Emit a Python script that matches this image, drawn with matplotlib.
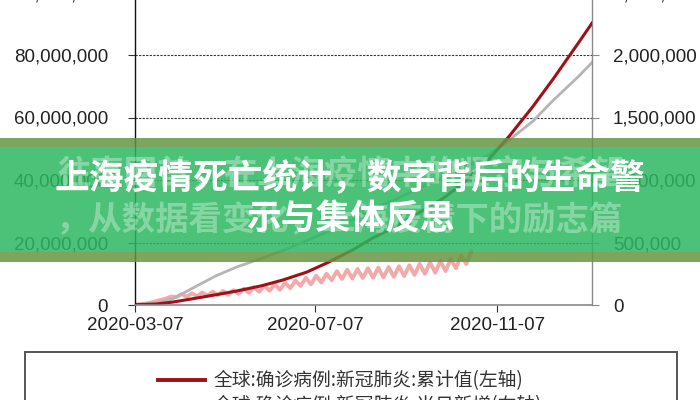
import matplotlib
matplotlib.use("Agg")
import matplotlib.pyplot as plt
import matplotlib.dates as mdates
import matplotlib.ticker as mticker
from matplotlib.patches import Rectangle
import numpy as np
import pandas as pd

# ---------------- data ----------------
cum_dates = ["2020-03-07", "2020-03-21", "2020-04-01", "2020-04-15", "2020-05-01",
             "2020-05-15", "2020-06-01", "2020-06-15", "2020-07-01", "2020-07-15",
             "2020-08-01", "2020-08-15", "2020-09-01", "2020-09-15", "2020-10-01",
             "2020-10-15", "2020-11-01", "2020-11-15", "2020-12-01", "2020-12-15",
             "2021-01-01", "2021-01-10"]
# global confirmed cases, cumulative (millions, left axis)
cases_cum_m = [0.1, 0.3, 0.9, 2.0, 3.3, 4.5, 6.2, 8.0, 10.5, 13.5,
               17.6, 21.5, 25.5, 29.5, 34.0, 39.0, 46.5, 54.0, 63.5, 72.5,
               84.0, 90.2]
# global deaths, cumulative (thousands, right axis)
deaths_cum_k = [3.5, 13, 47, 135, 235, 305, 375, 435, 515, 585,
                680, 770, 855, 935, 1020, 1095, 1200, 1320, 1470, 1640,
                1830, 1940]
# global daily new confirmed cases (thousands, right axis), twice-weekly trough/peak readings
daily_start = "2020-03-07"
daily_step_hours = 84
daily_new_k = [3, 7, 11, 19, 29, 41, 52, 68, 63, 87, 66, 94, 70, 100, 74, 106,
               78, 112, 82, 118, 90, 130, 98, 142, 106, 154, 114, 166, 122, 178,
               135, 195, 153, 217, 166, 234, 180, 250, 199, 271, 208, 282,
               212, 288, 216, 294, 218, 298, 221, 303, 226, 310, 232, 318,
               241, 329, 250, 340, 259, 351, 272, 368, 295, 395, 328, 432]

x_ticks = ["2020-03-07", "2020-07-07", "2020-11-07"]
x_range = ["2020-03-07", "2021-01-10"]
left_ticks = [0, 20e6, 40e6, 60e6, 80e6, 100e6]
right_ticks = [0, 0.5e6, 1.0e6, 1.5e6, 2.0e6, 2.5e6]

legend_labels = ["全球:确诊病例:新冠肺炎:累计值(左轴)",
                 "全球:确诊病例:新冠肺炎:当日新增(右轴)",
                 "全球:死亡病例:新冠肺炎:累计值(右轴)"]
title_lines = ["上海疫情死亡统计，数字背后的生命警", "示与集体反思"]
ghost_lines = ["往事回首，在上海疫情中的坚守与希望", "，从数据看变化，上海疫情下的励志篇"]

# ---------------- figure ----------------
W, H = 700, 400
fig = plt.figure(figsize=(7, 4), dpi=100)

def fx(px):
    return px / W

def fy(py):
    return 1 - py / H

ax_l, ax_r, ax_b = 135, 592, 305
ax_t = 305 - 312.5  # 100,000,000 level (slightly above the image)
ax = fig.add_axes([fx(ax_l), fy(ax_b), fx(ax_r) - fx(ax_l), fy(ax_t) - fy(ax_b)])
ax2 = ax.twinx()
ax.set_zorder(ax2.get_zorder() + 1)
ax.patch.set_visible(False)

cd = pd.to_datetime(cum_dates)
dd = pd.date_range(daily_start, periods=len(daily_new_k), freq=f"{daily_step_hours}h")

ln_pink, = ax2.plot(dd, np.array(daily_new_k) * 1e3, color="#F2A9A9", lw=2.8,
                    solid_joinstyle="round", solid_capstyle="round")
ln_gray, = ax2.plot(cd, np.array(deaths_cum_k) * 1e3, color="#B5B5B5", lw=2.0)
ln_red, = ax.plot(cd, np.array(cases_cum_m) * 1e6, color="#9E1119", lw=2.2)

ax.set_xlim(pd.to_datetime(x_range[0]), pd.to_datetime(x_range[1]))
ax.set_ylim(0, 100e6)
ax2.set_ylim(0, 2.5e6)
ax.set_yticks(left_ticks)
ax2.set_yticks(right_ticks)
fmt = mticker.FuncFormatter(lambda v, p: f"{v:,.0f}")
ax.yaxis.set_major_formatter(fmt)
ax2.yaxis.set_major_formatter(fmt)
ax.set_xticks(pd.to_datetime(x_ticks))
ax.xaxis.set_major_formatter(mdates.DateFormatter("%Y-%m-%d"))

ax2.grid(axis="y", linestyle=(0, (2, 1.2)), color="#333333", lw=0.8)
ax2.set_axisbelow(True)

for a in (ax, ax2):
    a.spines["top"].set_visible(False)
ax.spines["right"].set_visible(False)
ax2.spines["left"].set_visible(False)
ax2.spines["bottom"].set_visible(False)
ax.spines["left"].set_color("#111111")
ax.spines["left"].set_linewidth(1.0)
ax.spines["bottom"].set_color("#8a8a8a")
ax.spines["bottom"].set_linewidth(1.2)
ax2.spines["right"].set_color("#8a8a8a")
ax2.spines["right"].set_linewidth(1.0)

ax.tick_params(axis="y", length=5, width=0.8, color="#333", pad=14.4,
               labelcolor="#222", labelsize=13.5)
ax2.tick_params(axis="y", length=5, width=0.8, color="#8a8a8a", pad=10,
                labelcolor="#222", labelsize=13.5)
ax.tick_params(axis="x", length=5, width=0.8, color="#333", pad=3.5,
               labelcolor="#222", labelsize=13.5)
for lab in ax.get_yticklabels() + ax2.get_yticklabels() + ax.get_xticklabels():
    lab.set_family("Liberation Sans")

# ---------------- legend ----------------
box = Rectangle((fx(25), fy(352) - 0.3), fx(677) - fx(25), 0.3,
                transform=fig.transFigure, fill=False, edgecolor="#555555",
                lw=1.4, clip_on=False, zorder=4)
fig.add_artist(box)
leg = fig.legend([ln_red, ln_pink, ln_gray], legend_labels, loc="upper center",
                 bbox_to_anchor=(0.5, fy(361)), frameon=False, ncols=1,
                 prop=dict(family=["Noto Sans CJK SC", "DejaVu Sans"], size=13.5),
                 handlelength=2.5, handletextpad=0.45, labelspacing=0.2,
                 borderpad=0, alignment="left")
for t in leg.get_texts():
    t.set_color("#333333")
for h in leg.legend_handles:
    h.set_linewidth(2.8)

# ---------------- banner overlay ----------------
fig.add_artist(Rectangle((0, fy(147)), 1, (147 - 138) / H, transform=fig.transFigure,
                         facecolor="#669543", edgecolor="none", alpha=0.85, zorder=10))
fig.add_artist(Rectangle((0, fy(252)), 1, (252 - 147) / H, transform=fig.transFigure,
                         facecolor="#2BB860", edgecolor="none", alpha=0.85, zorder=10))
fig.add_artist(Rectangle((0, fy(262)), 1, (262 - 252) / H, transform=fig.transFigure,
                         facecolor="#669543", edgecolor="none", alpha=0.85, zorder=10))

cjk = ["Noto Sans CJK SC", "DejaVu Sans"]
fig.text(fx(57), fy(175), ghost_lines[0], ha="left", va="center", family=cjk,
         weight="bold", size=24, color="white", alpha=0.33, zorder=11)
fig.text(fx(56), fy(221), ghost_lines[1], ha="left", va="center", family=cjk,
         weight="bold", size=24, color="white", alpha=0.33, zorder=11)
fig.text(0.5, fy(178), title_lines[0], ha="center", va="center", family=cjk,
         weight="bold", size=25, color="white", zorder=12)
fig.text(0.5, fy(219), title_lines[1], ha="center", va="center", family=cjk,
         weight="bold", size=25, color="white", zorder=12)

fig.savefig("out.png", dpi=100)
